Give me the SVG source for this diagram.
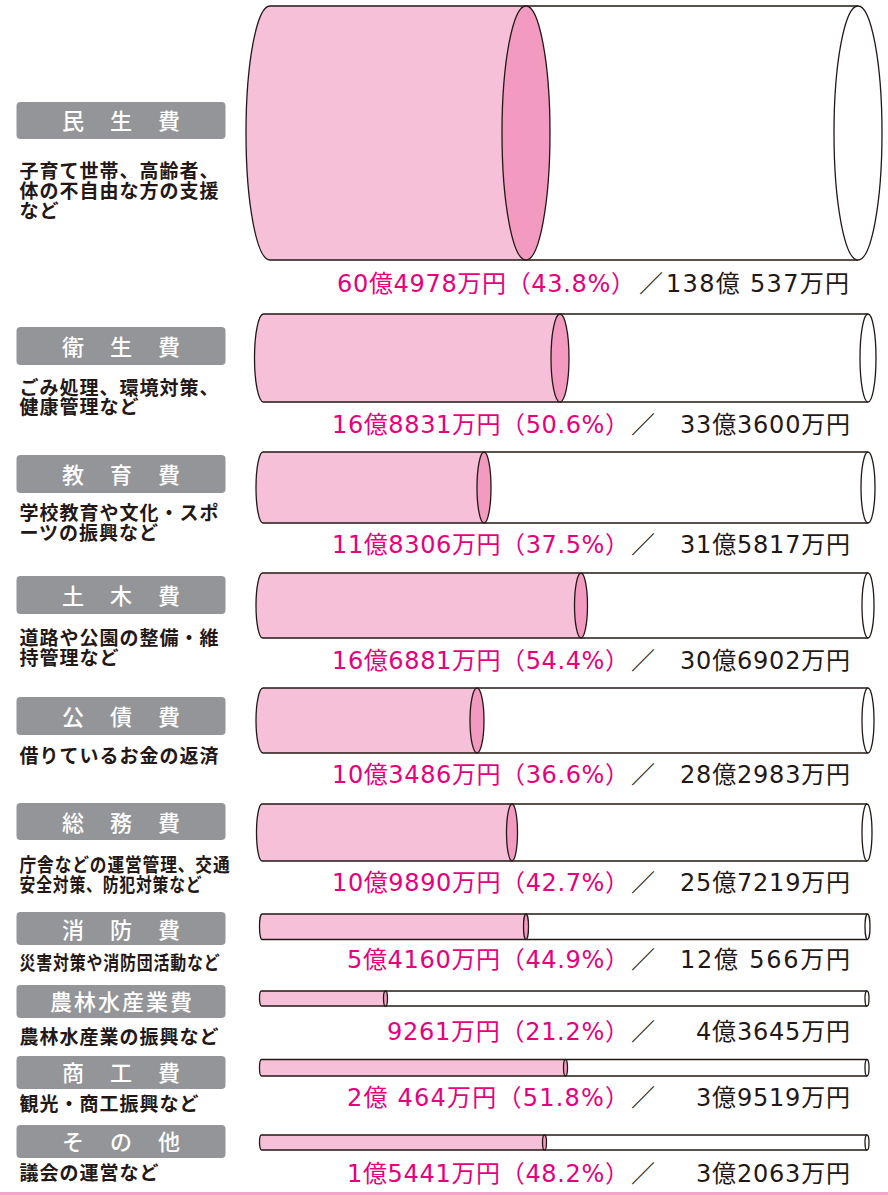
<svg xmlns="http://www.w3.org/2000/svg" width="888" height="1195" viewBox="0 0 888 1195">
<style>
.bg{fill:#ffffff}
.box{fill:#939598}
.lbl{font-family:"Noto Sans CJK JP","Noto Sans CJK SC",sans-serif;font-size:22px;font-weight:500;fill:#ffffff;text-anchor:middle;letter-spacing:2px}
.desc{font-family:"Noto Sans CJK JP","Noto Sans CJK SC",sans-serif;font-size:19px;font-weight:700;fill:#231815;letter-spacing:1px}
.pk{font-family:"DejaVu Sans","Noto Sans CJK JP",sans-serif;font-size:24px;fill:#e6007e}
.bk{font-family:"DejaVu Sans","Noto Sans CJK JP",sans-serif;font-size:24px;fill:#231815}
.sl{font-family:"Noto Sans CJK JP","Noto Sans CJK SC",sans-serif;font-size:24px;fill:#231815;text-anchor:middle}
.body{fill:#f6c1d8;stroke:none}
.wbody{fill:#ffffff;stroke:none}
.ol{fill:none;stroke:#231815;stroke-width:1.3}
.pe{fill:#f29ac0;stroke:#231815;stroke-width:1.3}
.we{fill:#ffffff;stroke:#231815;stroke-width:1.3}
</style>
<rect class="bg" x="0" y="0" width="888" height="1195"/>
<g id="connectors"></g>

<g id="minsei">
<rect class="box" x="16.5" y="102" width="209" height="37" rx="4"/>
<text class="lbl" x="122" y="129">民　生　費</text>
<text class="desc" x="19.5" y="178"><tspan x="19.5" y="178">子育て世帯、高齢者、</tspan><tspan x="19.5" y="198">体の不自由な方の支援</tspan><tspan x="19.5" y="218">など</tspan></text>
<path class="wbody" d="M526,6 H858 V260 H526 Z"/>
<path class="body" d="M270,6 H526 V260 H270 A24,127 0 0 1 270,6 Z"/>
<path class="ol" d="M270,6 H858 M270,260 H858 M270,260 A24,127 0 0 1 270,6"/>
<ellipse class="pe" cx="526" cy="133" rx="24" ry="127"/>
<ellipse class="we" cx="858" cy="133" rx="24" ry="127"/>
<text class="pk" x="337" y="292" textLength="298">60億4978万円（43.8%）</text>
<text class="sl" x="651" y="292">／</text>
<text class="bk" x="666" y="292" textLength="183">138億 537万円</text>
</g>

<g id="eisei">
<rect class="box" x="16.5" y="327" width="209" height="38" rx="4"/>
<text class="lbl" x="122" y="355">衛　生　費</text>
<text class="desc" x="19.5" y="395"><tspan x="19.5" y="395">ごみ処理、環境対策、</tspan><tspan x="19.5" y="414">健康管理など</tspan></text>
<path class="wbody" d="M560,314 H868 V402 H560 Z"/>
<path class="body" d="M263.5,314 H560 V402 H263.5 A9,44 0 0 1 263.5,314 Z"/>
<path class="ol" d="M263.5,314 H868 M263.5,402 H868 M263.5,402 A9,44 0 0 1 263.5,314"/>
<ellipse class="pe" cx="560" cy="358" rx="9" ry="44"/>
<ellipse class="we" cx="868" cy="358" rx="8" ry="44"/>
<text class="pk" x="332" y="432.5" textLength="297">16億8831万円（50.6%）</text>
<text class="sl" x="643" y="432.5">／</text>
<text class="bk" x="680" y="432.5" textLength="170">33億3600万円</text>
</g>

<g id="kyoiku">
<rect class="box" x="16.5" y="455" width="209" height="38" rx="4"/>
<text class="lbl" x="122" y="483">教　育　費</text>
<text class="desc" x="19.5" y="520"><tspan x="19.5" y="520">学校教育や文化・スポ</tspan><tspan x="19.5" y="540">ーツの振興など</tspan></text>
<path class="wbody" d="M484,452 H868 V523 H484 Z"/>
<path class="body" d="M263,452 H484 V523 H263 A7,35.5 0 0 1 263,452 Z"/>
<path class="ol" d="M263,452 H868 M263,523 H868 M263,523 A7,35.5 0 0 1 263,452"/>
<ellipse class="pe" cx="484" cy="487.5" rx="7" ry="35.5"/>
<ellipse class="we" cx="868" cy="487.5" rx="7" ry="35.5"/>
<text class="pk" x="332" y="553" textLength="297">11億8306万円（37.5%）</text>
<text class="sl" x="643" y="553">／</text>
<text class="bk" x="680" y="553" textLength="170">31億5817万円</text>
</g>

<g id="doboku">
<rect class="box" x="16.5" y="576" width="209" height="38" rx="4"/>
<text class="lbl" x="122" y="604">土　木　費</text>
<text class="desc" x="19.5" y="645"><tspan x="19.5" y="645">道路や公園の整備・維</tspan><tspan x="19.5" y="665">持管理など</tspan></text>
<path class="wbody" d="M581,573 H868 V638 H581 Z"/>
<path class="body" d="M262.5,573 H581 V638 H262.5 A6.5,32.5 0 0 1 262.5,573 Z"/>
<path class="ol" d="M262.5,573 H868 M262.5,638 H868 M262.5,638 A6.5,32.5 0 0 1 262.5,573"/>
<ellipse class="pe" cx="581" cy="605.5" rx="6.5" ry="32.5"/>
<ellipse class="we" cx="868" cy="605.5" rx="6" ry="32.5"/>
<text class="pk" x="332" y="669" textLength="297">16億6881万円（54.4%）</text>
<text class="sl" x="643" y="669">／</text>
<text class="bk" x="680" y="669" textLength="170">30億6902万円</text>
</g>

<g id="kousai">
<rect class="box" x="16.5" y="697" width="209" height="38" rx="4"/>
<text class="lbl" x="122" y="725">公　債　費</text>
<text class="desc" x="19.5" y="763">借りているお金の返済</text>
<path class="wbody" d="M477,688 H868 V753 H477 Z"/>
<path class="body" d="M263,688 H477 V753 H263 A7,32.5 0 0 1 263,688 Z"/>
<path class="ol" d="M263,688 H868 M263,753 H868 M263,753 A7,32.5 0 0 1 263,688"/>
<ellipse class="pe" cx="477" cy="720.5" rx="7" ry="32.5"/>
<ellipse class="we" cx="868" cy="720.5" rx="6" ry="32.5"/>
<text class="pk" x="332" y="782.5" textLength="297">10億3486万円（36.6%）</text>
<text class="sl" x="643" y="782.5">／</text>
<text class="bk" x="680" y="782.5" textLength="170">28億2983万円</text>
</g>

<g id="soumu">
<rect class="box" x="16.5" y="803" width="209" height="37" rx="4"/>
<text class="lbl" x="122" y="830.5">総　務　費</text>
<text class="desc" x="19.5" y="872"><tspan x="19.5" y="872" textLength="211" lengthAdjust="spacingAndGlyphs">庁舎などの運営管理、交通</tspan><tspan x="19.5" y="892" textLength="183" lengthAdjust="spacingAndGlyphs">安全対策、防犯対策など</tspan></text>
<path class="wbody" d="M512,804 H867 V861 H512 Z"/>
<path class="body" d="M262,804 H512 V861 H262 A5.5,28.5 0 0 1 262,804 Z"/>
<path class="ol" d="M262,804 H867 M262,861 H867 M262,861 A5.5,28.5 0 0 1 262,804"/>
<ellipse class="pe" cx="512" cy="832.5" rx="5.5" ry="28.5"/>
<ellipse class="we" cx="867" cy="832.5" rx="5" ry="28.5"/>
<text class="pk" x="332" y="890.5" textLength="297">10億9890万円（42.7%）</text>
<text class="sl" x="643" y="890.5">／</text>
<text class="bk" x="680" y="890.5" textLength="170">25億7219万円</text>
</g>

<g id="shobo">
<rect class="box" x="16.5" y="912" width="209" height="33" rx="4"/>
<text class="lbl" x="122" y="937.5">消　防　費</text>
<text class="desc" x="19.5" y="970" textLength="201" lengthAdjust="spacingAndGlyphs">災害対策や消防団活動など</text>
<path class="wbody" d="M526,914 H867.5 V939.5 H526 Z"/>
<path class="body" d="M262,914 H526 V939.5 H262 A2.5,12.75 0 0 1 262,914 Z"/>
<path class="ol" d="M262,914 H867.5 M262,939.5 H867.5 M262,939.5 A2.5,12.75 0 0 1 262,914"/>
<ellipse class="pe" cx="526" cy="926.75" rx="2.5" ry="12.75"/>
<ellipse class="we" cx="867.5" cy="926.75" rx="2.5" ry="12.75"/>
<text class="pk" x="347" y="968" textLength="282">5億4160万円（44.9%）</text>
<text class="sl" x="643" y="968">／</text>
<text class="bk" x="680" y="968" textLength="170">12億 566万円</text>
</g>

<g id="norin">
<rect class="box" x="16.5" y="985" width="209" height="33" rx="4"/>
<text class="lbl" x="122" y="1010">農林水産業費</text>
<text class="desc" x="19.5" y="1044">農林水産業の振興など</text>
<path class="wbody" d="M385.5,991 H867 V1006 H385.5 Z"/>
<path class="body" d="M261.5,991 H385.5 V1006 H261.5 A2,7.5 0 0 1 261.5,991 Z"/>
<path class="ol" d="M261.5,991 H867 M261.5,1006 H867 M261.5,1006 A2,7.5 0 0 1 261.5,991"/>
<ellipse class="pe" cx="385.5" cy="998.5" rx="2" ry="7.5"/>
<ellipse class="we" cx="867" cy="998.5" rx="2" ry="7.5"/>
<text class="pk" x="387" y="1040" textLength="242">9261万円（21.2%）</text>
<text class="sl" x="643" y="1040">／</text>
<text class="bk" x="696" y="1040" textLength="154">4億3645万円</text>
</g>

<g id="shoko">
<rect class="box" x="16.5" y="1056" width="209" height="33" rx="4"/>
<text class="lbl" x="122" y="1081">商　工　費</text>
<text class="desc" x="19.5" y="1111">観光・商工振興など</text>
<path class="wbody" d="M565.5,1059.5 H867 V1076 H565.5 Z"/>
<path class="body" d="M261.5,1059.5 H565.5 V1076 H261.5 A2,8.25 0 0 1 261.5,1059.5 Z"/>
<path class="ol" d="M261.5,1059.5 H867 M261.5,1076 H867 M261.5,1076 A2,8.25 0 0 1 261.5,1059.5"/>
<ellipse class="pe" cx="565.5" cy="1067.75" rx="2" ry="8.25"/>
<ellipse class="we" cx="867" cy="1067.75" rx="2" ry="8.25"/>
<text class="pk" x="347" y="1106" textLength="282">2億 464万円（51.8%）</text>
<text class="sl" x="643" y="1106">／</text>
<text class="bk" x="696" y="1106" textLength="154">3億9519万円</text>
</g>

<g id="sonota">
<rect class="box" x="16.5" y="1125" width="209" height="33" rx="4"/>
<text class="lbl" x="122" y="1150">そ　の　他</text>
<text class="desc" x="19.5" y="1180">議会の運営など</text>
<path class="wbody" d="M544.5,1135 H867 V1150 H544.5 Z"/>
<path class="body" d="M261.5,1135 H544.5 V1150 H261.5 A2,7.5 0 0 1 261.5,1135 Z"/>
<path class="ol" d="M261.5,1135 H867 M261.5,1150 H867 M261.5,1150 A2,7.5 0 0 1 261.5,1135"/>
<ellipse class="pe" cx="544.5" cy="1142.5" rx="2" ry="7.5"/>
<ellipse class="we" cx="867" cy="1142.5" rx="2" ry="7.5"/>
<text class="pk" x="347" y="1181.5" textLength="282">1億5441万円（48.2%）</text>
<text class="sl" x="643" y="1181.5">／</text>
<text class="bk" x="696" y="1181.5" textLength="154">3億2063万円</text>
</g>

<rect id="bottom-line" x="0" y="1192" width="888" height="3" fill="#f4a3cb"/>
</svg>
